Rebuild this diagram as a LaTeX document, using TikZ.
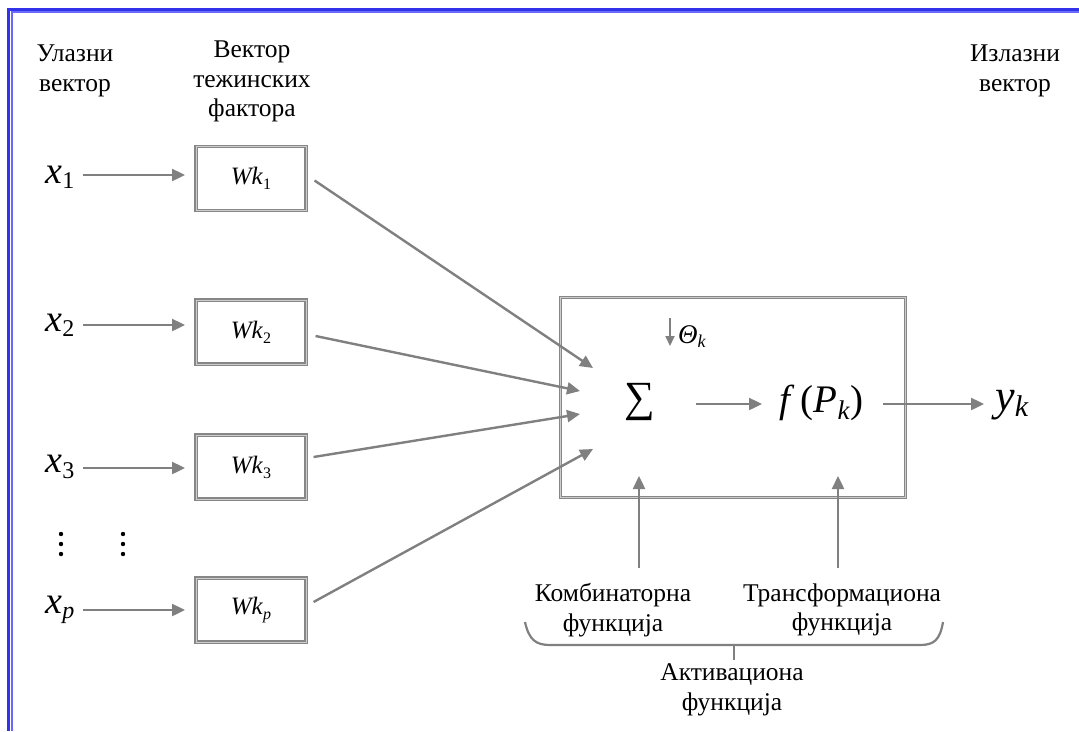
\documentclass[tikz,border=0pt]{standalone}
\usepackage{fontspec}
\setmainfont{Liberation Serif}
\usetikzlibrary{arrows.meta}
\definecolor{framblue}{RGB}{50,50,235}
\definecolor{framlight}{RGB}{105,105,250}
\definecolor{linegray}{RGB}{128,128,128}
\definecolor{boxgray}{RGB}{135,135,135}
\definecolor{boxlight}{RGB}{205,205,205}
% italic symbol with an upright subscript
\newcommand\symsub[4]{{\fontsize{#3}{#3}\selectfont\textit{#1}}{\fontsize{#4}{#4}\selectfont\raisebox{-0.22em}{#2}}}
\begin{document}
\begin{tikzpicture}[x=1pt,y=-1pt,
  lbl/.style={font=\fontsize{25.5}{29.5}\selectfont, align=center, inner sep=0pt},
  wbox/.style={draw=boxgray, line width=1.1pt, double=boxlight, double distance=1pt, minimum width=110pt, minimum height=64pt, inner sep=0pt},
  cellbox/.style={draw=boxgray, line width=1.1pt, double=boxlight, double distance=0.8pt, minimum width=345pt, minimum height=200pt, inner sep=0pt},
  arr/.style={draw=linegray, line width=2.4pt, -{Triangle[length=13pt,width=12pt]}},
  plain/.style={draw=linegray, line width=2.2pt},
  sym/.style={inner sep=0pt, anchor=center}]
\useasboundingbox (0,0) rectangle (1079,731);
% double frame line along the top and left edges
\draw[framlight, line width=2pt] (1079,12) -- (11.5,12) -- (11.5,731);
\draw[framblue, line width=3pt] (1079,9) -- (8.5,9) -- (8.5,731);

% column headings
\node[lbl] (hin) at (75,71) {Улазни\\вектор};
\node[lbl] (hw) at (252,81.5) {Вектор\\тежинских\\фактора};
\node[lbl] (hout) at (1015,71) {Излазни\\вектор};

% inputs
\node[sym] (x1) at (60,177) {\symsub{x}{1}{38}{24}};
\node[sym] (x2) at (60,325) {\symsub{x}{2}{38}{24}};
\node[sym] (x3) at (60,467) {\symsub{x}{3}{38}{24}};
\node[sym] (xp) at (60,610) {\symsub{x}{\textit{p}}{38}{24}};

% weight boxes
\node[wbox] (w1) at (251,178.5) {{\fontsize{25}{25}\selectfont\textit{Wk}}{\fontsize{16}{16}\selectfont\raisebox{-0.3em}{1}}};
\node[wbox] (w2) at (251,332) {{\fontsize{25}{25}\selectfont\textit{Wk}}{\fontsize{16}{16}\selectfont\raisebox{-0.3em}{2}}};
\node[wbox] (w3) at (251,467) {{\fontsize{25}{25}\selectfont\textit{Wk}}{\fontsize{16}{16}\selectfont\raisebox{-0.3em}{3}}};
\node[wbox] (wp) at (251,610) {{\fontsize{25}{25}\selectfont\textit{Wk}}{\fontsize{16}{16}\selectfont\raisebox{-0.3em}{\textit{p}}}};

% vertical ellipses
\foreach \xx in {61,123}{
  \foreach \yy in {534,544,554}{
    \fill (\xx,\yy) circle (2.2pt);
  }
}

\draw[arr] (83,175) -- (185,175);
\draw[arr] (83,325) -- (185,325);
\draw[arr] (83,468) -- (185,468);
\draw[arr] (83,610) -- (185,610);

% neuron cell
\node[cellbox] (cell) at (732.5,397) {};
\node[sym] (sum) at (640,402) {\fontsize{43}{43}\selectfont ∑};
\node[sym] (fp) at (821,403) {\fontsize{39}{39}\selectfont\textit{f}\,(\textit{P}{\fontsize{27}{27}\selectfont\raisebox{-0.25em}{\textit{k}}})};
\node[sym] (yk) at (1012,405) {\symsub{y}{\textit{k}}{44}{30}};
\node[sym, anchor=west] (th) at (678,337) {\symsub{Θ}{\textit{k}}{27}{18}};

\coordinate (t1) at (593,368);
\coordinate (t2) at (580,391);
\coordinate (t3) at (580,414);
\coordinate (t4) at (593,449);
\draw[arr] ([xshift=8pt,yshift=-2pt]w1.east) -- (t1);
\draw[arr] ([xshift=9pt,yshift=-4pt]w2.east) -- (t2);
\draw[arr] ([xshift=7pt,yshift=10pt]w3.east) -- (t3);
\draw[arr] ([xshift=7pt,yshift=8pt]wp.east) -- (t4);

\draw[arr] (696,404) -- (762,404);
\draw[arr] (883,404) -- (984,404);
\coordinate (thtop) at (670,318);
\draw[arr, line width=1.8pt, -{Triangle[length=10pt,width=9pt]}] (thtop) -- (670,346);

% function labels and their pointers
\node[lbl] (comb) at (613,610) {Комбинаторна\\функција};
\node[lbl] (trans) at (842,610) {Трансформациона\\функција};
\node[lbl] (act) at (732,690) {Активациона\\функција};
\draw[arr] (639,568) -- (639,476);
\draw[arr] (838,568) -- (838,476);

% brace grouping the two functions
\draw[plain] (525,622) .. controls (529,640) and (536,645) .. (550,645) -- (920,645) .. controls (934,645) and (940,640) .. (943,622);
\draw[plain] (734,645) -- (734,660);
\end{tikzpicture}
\end{document}
